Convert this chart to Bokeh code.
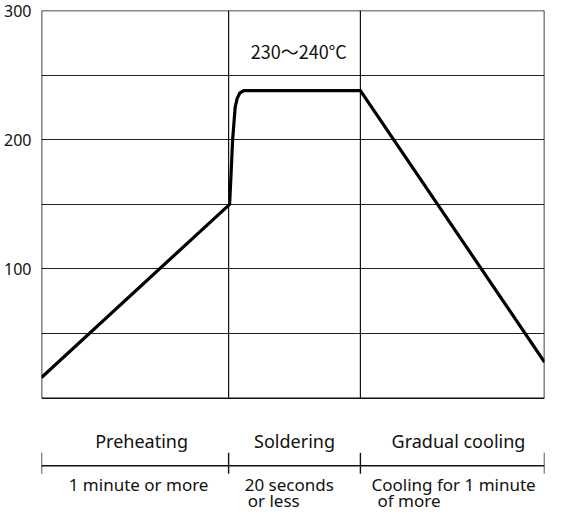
from bokeh.plotting import figure
from bokeh.models import Range1d, FixedTicker
from bokeh.core.properties import value
from bokeh.embed import file_html
from bokeh.resources import INLINE

# ---- data ----
time_pts = [0, 37.4, 37.7, 38.0, 38.5, 38.9, 39.4, 40.2, 41.0, 63.4, 100]
temp_pts = [16, 150, 175, 200, 225, 232, 236, 238, 238, 238, 28]
y_ticks = [100, 200, 300]
y_grid = [50, 100, 150, 200, 250]
phase_bounds = [0, 37.2, 63.4, 100]
phase_names = ["Preheating", "Soldering", "Gradual cooling"]
phase_name_x = [19.9, 50.3, 82.9]
dur_line1 = ["1 minute or more", "20 seconds", "Cooling for 1 minute"]
dur_line2 = ["", "or less", "of more"]
dur_x1 = [19.3, 40.4, 65.6]
dur_x2 = [0, 41.0, 66.8]
dur_align = ["center", "left", "left"]
peak_label = "230〜240°C"

FONT = "Noto Sans"
CJK = "Noto Sans CJK JP"
INK = "#111111"
FS = "18px"
FS2 = "17px"

p = figure(width=549, height=514, output_backend="svg", toolbar_location=None,
           x_range=Range1d(0, 100), y_range=Range1d(-90, 300),
           min_border_left=41, min_border_right=5, min_border_top=10,
           min_border_bottom=0)
p.outline_line_color = None
p.background_fill_color = "white"
p.border_fill_color = "white"
p.xaxis.visible = False
p.xgrid.visible = False

p.yaxis.ticker = FixedTicker(ticks=y_ticks)
p.yaxis.axis_line_color = None
p.yaxis.major_tick_line_color = None
p.yaxis.minor_tick_line_color = None
p.yaxis.major_label_standoff = 4
p.yaxis.major_label_text_font = FONT
p.yaxis.major_label_text_font_size = "16px"
p.yaxis.major_label_text_color = INK

p.ygrid.ticker = FixedTicker(ticks=y_grid)
p.ygrid.grid_line_color = "#222222"
p.ygrid.grid_line_width = 1

x0, x1 = phase_bounds[0], phase_bounds[-1]
y0, y1 = 0, 300
# frame border
p.segment(x0=[x0, x0, x0, x1], y0=[y0, y1, y0, y0],
          x1=[x1, x1, x0, x1], y1=[y0, y1, y1, y1],
          line_color=INK, line_width=1.6)
# phase dividers
p.segment(x0=phase_bounds[1:-1], y0=[y0] * 2, x1=phase_bounds[1:-1], y1=[y1] * 2,
          line_color=INK, line_width=1.2)

# temperature profile
p.line(time_pts, temp_pts, line_color="black", line_width=3.2, line_join="round")

p.text(x=[41.6], y=[268.5], text=[peak_label], text_font=value(CJK),
       text_font_size=FS, text_color=INK, text_baseline="alphabetic",
       text_align="left")

p.text(x=phase_name_x, y=[-33] * 3, text=phase_names, text_font=value(FONT),
       text_font_size=FS, text_color=INK, text_baseline="alphabetic",
       text_align="center")

# timeline
p.segment(x0=[x0], y0=[-52.3], x1=[x1], y1=[-52.3], line_color=INK, line_width=1.6)
p.segment(x0=phase_bounds, y0=[-42.3] * 4, x1=phase_bounds, y1=[-58.5] * 4,
          line_color=INK, line_width=1.4)

for i in range(3):
    p.text(x=[dur_x1[i]], y=[-66.5], text=[dur_line1[i]], text_font=value(FONT),
           text_font_size=FS2, text_color=INK, text_baseline="alphabetic",
           text_align=dur_align[i])
    if dur_line2[i]:
        p.text(x=[dur_x2[i]], y=[-79.5], text=[dur_line2[i]], text_font=value(FONT),
               text_font_size=FS2, text_color=INK, text_baseline="alphabetic",
               text_align="left")

open("out.html", "w").write(file_html(p, INLINE))
